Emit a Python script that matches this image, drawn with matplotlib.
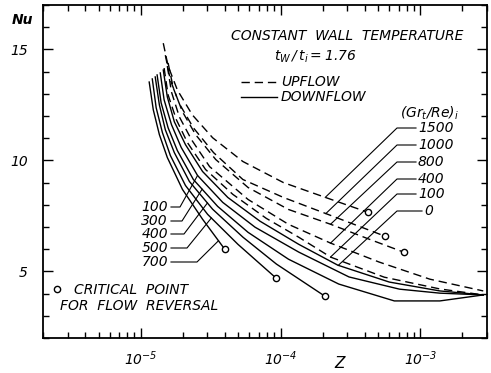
import numpy as np
import matplotlib
matplotlib.use('Agg')
import matplotlib.pyplot as plt

plt.rcParams['font.family'] = ['DejaVu Sans']
plt.rcParams['mathtext.fontset'] = 'custom'
plt.rcParams['mathtext.rm'] = 'DejaVu Sans:italic'
plt.rcParams['mathtext.it'] = 'DejaVu Sans:italic'

W, H = 491, 373

# upflow (dashed), Gr/Re = 1500 ... 100
z_up_1500 = [1.45e-5, 1.57e-5, 1.83e-5, 2.34e-5, 3.27e-5, 5.38e-5, 1.05e-4, 2.10e-4, 4.23e-4]
nu_up_1500 = [15.28, 14.25, 13.17, 12.05, 11.02, 9.95, 9.00, 8.33, 7.66]
z_up_1000 = [1.50e-5, 1.63e-5, 1.89e-5, 2.38e-5, 3.32e-5, 5.38e-5, 1.05e-4, 2.10e-4, 5.62e-4]
nu_up_1000 = [14.74, 13.62, 12.55, 11.47, 10.35, 9.14, 8.33, 7.61, 6.58]
z_up_800 = [1.57e-5, 1.71e-5, 1.99e-5, 2.47e-5, 3.44e-5, 5.86e-5, 1.14e-4, 2.29e-4, 4.31e-4, 7.59e-4]
nu_up_800 = [14.39, 13.26, 12.19, 11.16, 10.04, 8.78, 7.79, 7.12, 6.45, 5.87]
z_up_400 = [1.55e-5, 1.66e-5, 1.89e-5, 2.31e-5, 3.11e-5, 5.86e-5, 1.14e-4, 2.29e-4, 5.08e-4, 1.17e-3, 2.82e-3]
nu_up_400 = [14.25, 13.08, 11.96, 10.93, 9.72, 8.24, 7.12, 6.27, 5.42, 4.65, 4.12]
z_up_100 = [1.47e-5, 1.57e-5, 1.80e-5, 2.16e-5, 2.91e-5, 4.56e-5, 7.91e-5, 1.35e-4, 2.29e-4, 5.52e-4, 1.38e-3, 2.82e-3]
nu_up_100 = [14.16, 12.95, 11.83, 10.80, 9.59, 8.47, 7.39, 6.54, 5.64, 4.74, 4.21, 3.94]

# pure forced convection
z_0 = [1.45e-5, 1.55e-5, 1.74e-5, 2.09e-5, 2.77e-5, 4.20e-5, 7.14e-5, 1.35e-4, 2.57e-4, 6.00e-4, 1.38e-3, 2.82e-3]
nu_0 = [14.07, 12.86, 11.74, 10.71, 9.50, 8.33, 7.26, 6.22, 5.28, 4.52, 4.12, 3.94]

# downflow (solid)
z_dn_100 = [1.38e-5, 1.47e-5, 1.66e-5, 1.95e-5, 2.55e-5, 3.86e-5, 6.58e-5, 1.35e-4, 3.09e-4, 7.10e-4, 1.38e-3, 2.82e-3]
nu_dn_100 = [13.94, 12.73, 11.61, 10.58, 9.32, 8.11, 6.99, 5.87, 4.75, 4.20, 4.02, 3.94]
z_dn_300 = [1.31e-5, 1.40e-5, 1.57e-5, 1.83e-5, 2.38e-5, 3.55e-5, 5.86e-5, 1.14e-4, 2.61e-4, 6.52e-4, 1.38e-3, 2.82e-3]
nu_dn_300 = [13.85, 12.59, 11.47, 10.44, 9.14, 7.93, 6.76, 5.55, 4.43, 3.67, 3.67, 3.94]
z_dn_400 = [1.27e-5, 1.36e-5, 1.50e-5, 1.74e-5, 2.23e-5, 3.27e-5, 5.39e-5, 9.35e-5, 2.07e-4]
nu_dn_400 = [13.76, 12.50, 11.38, 10.35, 9.05, 7.80, 6.54, 5.33, 3.89]
z_dn_500 = [1.21e-5, 1.29e-5, 1.43e-5, 1.63e-5, 2.09e-5, 3.01e-5, 4.96e-5, 9.33e-5]
nu_dn_500 = [13.67, 12.37, 11.25, 10.22, 8.87, 7.57, 6.22, 4.69]
z_dn_700 = [1.15e-5, 1.23e-5, 1.36e-5, 1.55e-5, 1.99e-5, 2.77e-5, 3.99e-5]
nu_dn_700 = [13.53, 12.28, 11.16, 10.13, 8.69, 7.35, 6.00]

right_labels = ['1500', '1000', '800', '400', '100', '0']
left_labels = ['100', '300', '400', '500', '700']


def px(fig, ax, x, y):
    # pixel position (from top-left) -> data coords
    disp = fig.transFigure.transform((x / W, 1 - y / H))
    return ax.transData.inverted().transform(disp)


def on_curve(z, nu, zt):
    lz = np.log10(z)
    return zt, np.interp(np.log10(zt), lz, nu)


def main():
    fig = plt.figure(figsize=(W / 100, H / 100), dpi=100)
    ax = fig.add_axes([43 / W, 1 - 338 / H, (487 - 43) / W, (338 - 5) / H])
    ax.set_xscale('log')
    ax.set_xlim(2e-6, 3e-3)
    ax.set_ylim(2, 17)

    dash = dict(color='black', lw=1.0, dashes=(6, 3.5))
    solid = dict(color='black', lw=1.0)
    ups = [(z_up_1500, nu_up_1500), (z_up_1000, nu_up_1000), (z_up_800, nu_up_800),
           (z_up_400, nu_up_400), (z_up_100, nu_up_100)]
    dns = [(z_dn_100, nu_dn_100), (z_dn_300, nu_dn_300), (z_dn_400, nu_dn_400),
           (z_dn_500, nu_dn_500), (z_dn_700, nu_dn_700)]
    for z, nu in ups:
        ax.plot(z, nu, **dash)
    ax.plot(z_0, nu_0, **solid)
    for z, nu in dns:
        ax.plot(z, nu, **solid)

    # critical points for flow reversal
    ends = ups[:3] + dns[2:]
    ax.plot([z[-1] for z, nu in ends], [nu[-1] for z, nu in ends], 'o',
            ms=4.5, mfc='white', mec='black', mew=1.0, zorder=5)

    # axes styling
    for s in ax.spines.values():
        s.set_linewidth(1.3)
    ax.set_yticks([5, 10, 15])
    ax.set_yticks(np.arange(2, 18, 1), minor=True)
    ax.set_yticklabels(['5', '10', '15'], fontsize=10, style='italic')
    ax.set_xticks([1e-5, 1e-4, 1e-3])
    ax.set_xticklabels([r'$10^{-5}$', r'$10^{-4}$', r'$10^{-3}$'], fontsize=10)
    ax.tick_params(which='both', direction='in', top=True, right=True, width=1.0)
    ax.tick_params(which='major', length=7, pad=8)
    ax.tick_params(which='minor', length=4)
    ax.tick_params(axis='y', which='major', pad=11)

    fig.text(12 / W, 1 - 20 / H, 'Nu', fontsize=10, style='italic', weight='bold', va='center')
    fig.text(340 / W, 1 - 364 / H, 'Z', fontsize=11, style='italic', ha='center', va='center')

    tx = dict(style='italic', fontsize=10, va='center')
    fig.text(347 / W, 1 - 36 / H, 'CONSTANT  WALL  TEMPERATURE', ha='center', **tx)
    fig.text(315 / W, 1 - 57 / H, r'$t_W\,/\,t_i = 1.76$', ha='center', **tx)

    # legend
    a, b = px(fig, ax, 241, 82), px(fig, ax, 277, 82)
    ax.plot([a[0], b[0]], [a[1], b[1]], **dash)
    a, b = px(fig, ax, 241, 97), px(fig, ax, 277, 97)
    ax.plot([a[0], b[0]], [a[1], b[1]], **solid)
    fig.text(281 / W, 1 - 82 / H, 'UPFLOW', ha='left', **tx)
    fig.text(281 / W, 1 - 97 / H, 'DOWNFLOW', ha='left', **tx)
    fig.text(430 / W, 1 - 113 / H, r'$(Gr_t/Re)_i$', ha='center', **tx)

    # right-hand labels and leaders
    right_curves = ups + [(z_0, nu_0)]
    right_y = [128, 145, 162, 179, 194, 211]
    right_z = [2.09e-4, 2.11e-4, 2.28e-4, 2.28e-4, 2.28e-4, 2.59e-4]
    right_tx = [418, 418, 418, 418, 418, 424]
    for lab, (z, nu), yy, zt, xt in zip(right_labels, right_curves, right_y, right_z, right_tx):
        p1 = px(fig, ax, xt - 2, yy)
        p2 = px(fig, ax, 397, yy)
        p3 = on_curve(z, nu, zt)
        ax.plot([p1[0], p2[0], p3[0]], [p1[1], p2[1], p3[1]], color='black', lw=0.8)
        fig.text(xt / W, 1 - yy / H, lab, ha='left', **tx)

    # left-hand labels and leaders
    left_y = [207, 221, 234, 248, 262]
    left_h = [180, 182, 184, 187, 197]
    left_z = [2.55e-5, 2.75e-5, 3.0e-5, 3.2e-5, 3.6e-5]
    for lab, (z, nu), yy, hx, zt in zip(left_labels, dns, left_y, left_h, left_z):
        p1 = px(fig, ax, 171, yy)
        p2 = px(fig, ax, hx, yy)
        p3 = on_curve(z, nu, zt)
        ax.plot([p1[0], p2[0], p3[0]], [p1[1], p2[1], p3[1]], color='black', lw=0.8)
        fig.text(168 / W, 1 - yy / H, lab, ha='right', **tx)

    # critical point note
    c = px(fig, ax, 57, 289)
    ax.plot([c[0]], [c[1]], 'o', ms=4.5, mfc='white', mec='black', mew=1.0)
    fig.text(74 / W, 1 - 290 / H, 'CRITICAL  POINT', ha='left', **tx)
    fig.text(60 / W, 1 - 306 / H, 'FOR  FLOW  REVERSAL', ha='left', **tx)

    fig.savefig('out.png', dpi=100)


if __name__ == "__main__":
    main()
